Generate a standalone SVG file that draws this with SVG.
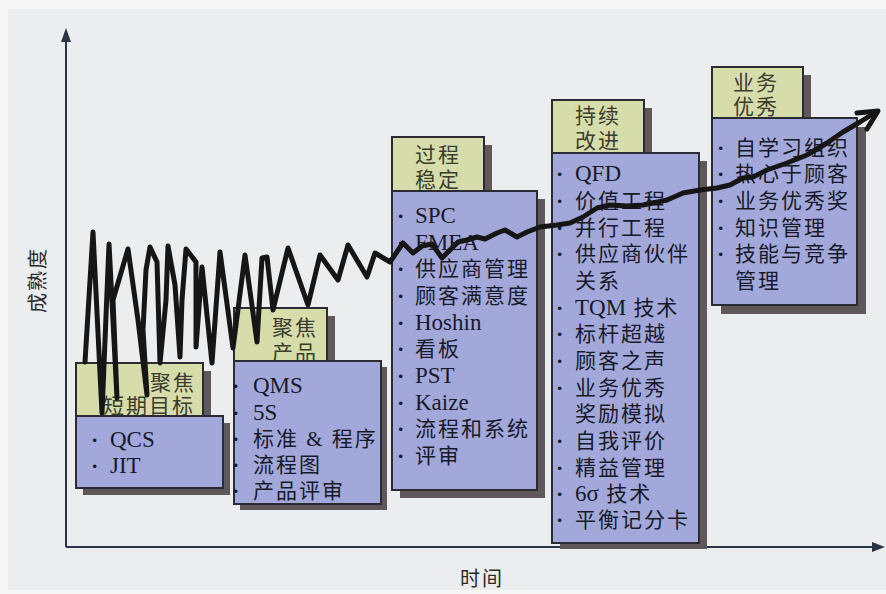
<svg xmlns="http://www.w3.org/2000/svg" width="886" height="594" viewBox="0 0 886 594">
<defs>
<style>
.hd{fill:#d7dcab;stroke:#2b2b33;stroke-width:2}
.bd{fill:#a3a8db;stroke:#2b2b33;stroke-width:2}
.sh{fill:#5e585b}
.ht{font-family:"Liberation Serif","Noto Sans CJK SC",serif;font-size:21px;fill:#3a3d2d;letter-spacing:2px}
.t{font-family:"Liberation Serif","Noto Sans CJK SC",serif;font-size:21px;fill:#171a28;letter-spacing:2px}
.e{font-size:23px;letter-spacing:0}
.b{font-family:"Liberation Serif",serif;font-size:22px;font-weight:bold;fill:#171a28}
.ax{stroke:#2c3344;stroke-width:2;fill:none}
.lbl{font-family:"Noto Sans CJK SC",sans-serif;font-size:20px;fill:#2a2a2a;letter-spacing:2px}
.curve{fill:none;stroke:#161616;stroke-width:5;stroke-linejoin:round;stroke-linecap:round}
</style>
</defs>
<rect x="0" y="0" width="886" height="594" fill="#f7f7f7"/>
<rect x="8" y="9" width="878" height="581" fill="#ecedee"/>

<g id="axes">
<line class="ax" x1="66" y1="40" x2="66" y2="547"/>
<polygon points="66,28 61,42 71,42" fill="#2c3344"/>
<line class="ax" x1="66" y1="547" x2="874" y2="547"/>
<polygon points="885,547 872,542 872,552" fill="#2c3344"/>
<text class="lbl" x="38" y="287" text-anchor="middle" transform="rotate(-90 38 280)">成熟度</text>
<text class="lbl" x="460" y="586">时间</text>
</g>

<g id="box1">
<rect class="sh" x="84" y="371" width="127" height="53"/>
<rect class="hd" x="76" y="363" width="127" height="53"/>
<text class="ht" x="150" y="390">聚焦</text>
<text class="ht" x="103" y="413">短期目标</text>
<rect class="sh" x="83" y="423" width="147" height="72"/>
<rect class="bd" x="76" y="416" width="147" height="72"/>
<text class="b" x="91" y="447">·</text><text class="t e" x="110" y="447">QCS</text>
<text class="b" x="91" y="473">·</text><text class="t e" x="110" y="473">JIT</text>
</g>

<g id="box2">
<rect class="sh" x="242" y="316" width="93" height="53"/>
<rect class="hd" x="234" y="308" width="93" height="53"/>
<text class="ht" x="272" y="335">聚焦</text>
<text class="ht" x="272" y="360">产品</text>
<rect class="sh" x="240" y="367" width="147" height="143"/>
<rect class="bd" x="234" y="361" width="147" height="143"/>
<text class="b" x="232" y="393">·</text><text class="t e" x="253" y="393">QMS</text>
<text class="b" x="232" y="420">·</text><text class="t e" x="253" y="420">5S</text>
<text class="b" x="232" y="446">·</text><text class="t" x="253" y="446">标准 &amp; 程序</text>
<text class="b" x="232" y="472">·</text><text class="t" x="253" y="472">流程图</text>
<text class="b" x="232" y="498">·</text><text class="t" x="253" y="498">产品评审</text>
</g>

<g id="box3">
<rect class="sh" x="400" y="145" width="92" height="54"/>
<rect class="hd" x="392" y="137" width="92" height="54"/>
<text class="ht" x="415" y="162">过程</text>
<text class="ht" x="415" y="187">稳定</text>
<rect class="sh" x="400" y="199" width="145" height="299"/>
<rect class="bd" x="392" y="191" width="145" height="299"/>
<text class="b" x="397" y="223">·</text><text class="t e" x="415" y="223">SPC</text>
<text class="b" x="397" y="250">·</text><text class="t e" x="415" y="250">FMEA</text>
<text class="b" x="397" y="276">·</text><text class="t" x="415" y="276">供应商管理</text>
<text class="b" x="397" y="303">·</text><text class="t" x="415" y="303">顾客满意度</text>
<text class="b" x="397" y="330">·</text><text class="t e" x="415" y="330">Hoshin</text>
<text class="b" x="397" y="356">·</text><text class="t" x="415" y="356">看板</text>
<text class="b" x="397" y="383">·</text><text class="t e" x="415" y="383">PST</text>
<text class="b" x="397" y="410">·</text><text class="t e" x="415" y="410">Kaize</text>
<text class="b" x="397" y="436">·</text><text class="t" x="415" y="436">流程和系统</text>
<text class="b" x="397" y="463">·</text><text class="t" x="415" y="463">评审</text>
</g>

<g id="box4">
<rect class="sh" x="560" y="108" width="92" height="53"/>
<rect class="hd" x="552" y="100" width="92" height="53"/>
<text class="ht" x="575" y="123">持续</text>
<text class="ht" x="575" y="148">改进</text>
<rect class="sh" x="560" y="161" width="147" height="388"/>
<rect class="bd" x="552" y="153" width="147" height="390"/>
<text class="b" x="556" y="181">·</text><text class="t e" x="575" y="181">QFD</text>
<text class="b" x="556" y="208">·</text><text class="t" x="575" y="208">价值工程</text>
<text class="b" x="556" y="235">·</text><text class="t" x="575" y="235">并行工程</text>
<text class="b" x="556" y="261">·</text><text class="t" x="575" y="261">供应商伙伴</text>
<text class="t" x="575" y="288">关系</text>
<text class="b" x="556" y="315">·</text><text class="t" x="575" y="315"><tspan class="e">TQM</tspan> 技术</text>
<text class="b" x="556" y="341">·</text><text class="t" x="575" y="341">标杆超越</text>
<text class="b" x="556" y="368">·</text><text class="t" x="575" y="368">顾客之声</text>
<text class="b" x="556" y="395">·</text><text class="t" x="575" y="395">业务优秀</text>
<text class="t" x="575" y="421">奖励模拟</text>
<text class="b" x="556" y="448">·</text><text class="t" x="575" y="448">自我评价</text>
<text class="b" x="556" y="475">·</text><text class="t" x="575" y="475">精益管理</text>
<text class="b" x="556" y="501">·</text><text class="t" x="575" y="501"><tspan class="e">6σ</tspan> 技术</text>
<text class="b" x="556" y="527">·</text><text class="t" x="575" y="527">平衡记分卡</text>
</g>

<g id="box5">
<rect class="sh" x="720" y="75" width="91" height="51"/>
<rect class="hd" x="712" y="67" width="91" height="51"/>
<text class="ht" x="733" y="90">业务</text>
<text class="ht" x="733" y="114">优秀</text>
<rect class="sh" x="721" y="127" width="145" height="187"/>
<rect class="bd" x="712" y="118" width="145" height="187"/>
<text class="b" x="717" y="155">·</text><text class="t" x="735" y="155">自学习组织</text>
<text class="b" x="717" y="181">·</text><text class="t" x="735" y="181">热心于顾客</text>
<text class="b" x="717" y="208">·</text><text class="t" x="735" y="208">业务优秀奖</text>
<text class="b" x="717" y="235">·</text><text class="t" x="735" y="235">知识管理</text>
<text class="b" x="717" y="261">·</text><text class="t" x="735" y="261">技能与竞争</text>
<text class="t" x="735" y="288">管理</text>
</g>

<g id="connectors">
<polyline class="curve" points="85,362 93,232 102,413 109,244 117,398 113,300 128,249 138,320 147,395 143,330 146,270 150,247 157,262 160,363 166,300 168,246 175,285 180,357 182,300 186,249 196,262 196,347 202,267 212,363 220,252 233,348 245,255 257,342 262,258 267,257 273,310 288,248 308,305 320,255 338,280 348,245 367,277 375,253 390,262 403,243 413,253 422,246 432,244 442,258 458,242 467,240 477,237 485,239 497,233 505,230 517,237 527,232 540,227 557,225 570,223 583,217 597,208 610,205 627,206 643,205 653,203 667,200 683,193 700,190 717,188 730,185 743,178 753,177 767,170 787,163 807,155 827,143 843,132 860,122 876,112"/>
<polyline class="curve" points="857,113 878,111 867,129"/>
</g>
</svg>
